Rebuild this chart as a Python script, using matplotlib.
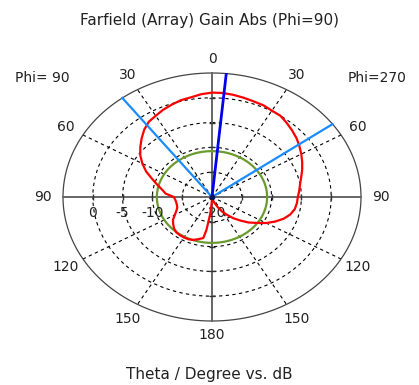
import numpy as np
import matplotlib
matplotlib.use("Agg")
import matplotlib.pyplot as plt

# signed theta: negative = Phi=90 side (left), positive = Phi=270 side (right)
theta = [-180, -177, -175, -172, -170, -165, -160, -155, -150, -145, -140, -135,
         -130, -125, -120, -115, -110, -105, -100, -95, -90, -85, -80, -75,
         -70, -65, -60, -55, -50, -45, -40, -35, -30, -25, -20, -15, -10, -5,
         0, 5, 10, 15, 20, 25, 30, 35, 40, 45, 50, 55, 60, 65, 70, 75, 80,
         85, 90, 95, 100, 105, 110, 115, 120, 125, 130, 135, 140, 145, 150,
         155, 160, 165, 170, 175, 180]
gain = [-19.7, -18.6, -16.5, -13.3, -11.6, -11.2, -10.8, -10.6, -10.6, -10.6,
        -10.7, -11.0, -11.5, -12.0, -12.8, -13.4, -13.8, -13.9, -13.9, -13.8,
        -13.6, -12.2, -11.5, -10.5, -9.3, -7.8, -6.5, -5.3, -4.3, -3.3, -2.3,
        -1.5, -1.1, -0.6, -0.2, 0.2, 0.4, 0.8, 1.05, 1.05, 0.9, 0.7, 0.5, 0.4,
        0.1, 0.0, -0.5, -1.0, -1.5, -2.1, -2.7, -3.3, -3.9, -4.5, -5.0, -5.3,
        -5.6, -5.7, -5.9, -6.4, -7.2, -8.3, -9.5, -10.9, -12.0, -13.3, -14.4,
        -15.6, -16.6, -17.8, -18.7, -19.2, -19.5, -19.6, -19.7]

main_lobe_dir = 5.5
beam_edges = [-37, 54]
side_lobe_level = -10.75

db_min = -20
db_max = 5
rings = [-15, -10, -5, 0]
ring_labels = ["0", "-5", "-10", "-20"]
ring_label_db = [0, -5, -10, -20]
spokes = [30, 60, 120, 150]
angle_labels = [0, 30, 60, 90, 120, 150, 180]


def xy(ang, db):
    r = np.clip(np.asarray(db, dtype=float) - db_min, 0, None)
    a = np.radians(ang)
    return r * np.sin(a), r * np.cos(a)


R = db_max - db_min
fig = plt.figure(figsize=(4.19, 3.85), dpi=100)
ax = fig.add_axes([63 / 419, 1 - 321 / 385, 298 / 419, 248 / 385])
ax.set_xlim(-R, R)
ax.set_ylim(-R, R)
ax.axis("off")

t = np.linspace(0, 360, 361)
# grid rings
for g in rings:
    x, y = xy(t, g)
    ax.plot(x, y, color="black", lw=0.8, ls=(0, (3, 3)), zorder=1)
x, y = xy(t, db_max)
ax.plot(x, y, color="#444444", lw=0.9, zorder=2, clip_on=False)

# spokes
for s in spokes:
    for sgn in (-1, 1):
        x, y = xy([sgn * s, sgn * s], [db_min, db_max])
        ax.plot(x, y, color="black", lw=0.8, ls=(0, (3, 3)), zorder=1)

# main axes lines
ax.plot([-R, R], [0, 0], color="#666666", lw=1.4, zorder=2, clip_on=False)
ax.plot([0, 0], [-R, R], color="#666666", lw=1.4, zorder=2, clip_on=False)
for g in rings:
    r = g - db_min
    ax.plot([-r, r], [0, 0], ls="none", marker="|", ms=5, mew=1, color="#333333", zorder=2)
    ax.plot([0, 0], [-r, r], ls="none", marker="_", ms=5, mew=1, color="#333333", zorder=2)

# curves
x, y = xy(t, side_lobe_level)
ax.plot(x, y, color="#6b9a2e", lw=1.6, zorder=3)
x, y = xy(theta, gain)
ax.plot(x, y, color="#ff0000", lw=1.6, zorder=4)
for b in beam_edges:
    x, y = xy([b, b], [db_min, db_max])
    ax.plot(x, y, color="#1a8cff", lw=1.6, zorder=5)
x, y = xy([main_lobe_dir, main_lobe_dir], [db_min, db_max])
ax.plot(x, y, color="#0000ee", lw=2.0, zorder=6)
ax.plot([0], [0], marker="o", ms=3, color="#101060", zorder=7)

txt = dict(fontsize=10, color="#222222", ha="center", va="center", family="DejaVu Sans")
# angle labels
for a in angle_labels:
    rl = 28.3 if a not in (0, 180) else 27.8
    for sgn in ((-1, 1) if a not in (0, 180) else (1,)):
        x, y = xy(sgn * a, db_min + rl)
        ax.text(x, y, str(a), **txt)
# radial labels
for lab, d in zip(ring_labels, ring_label_db):
    ax.text(-(d - db_min) + (0.4 if d == db_min else 0), -3.3, lab, **txt)

ax.text(-28.4, 24.0, "Phi= 90", **txt)
ax.text(27.7, 24.0, "Phi=270", **txt)

big = dict(txt, fontsize=11)
fig.text(0.5, 1 - 20 / 385, "Farfield (Array) Gain Abs (Phi=90)", **big)
fig.text(0.5, 1 - 375 / 385, "Theta / Degree vs. dB", **big)

fig.savefig("out.png", dpi=100)
